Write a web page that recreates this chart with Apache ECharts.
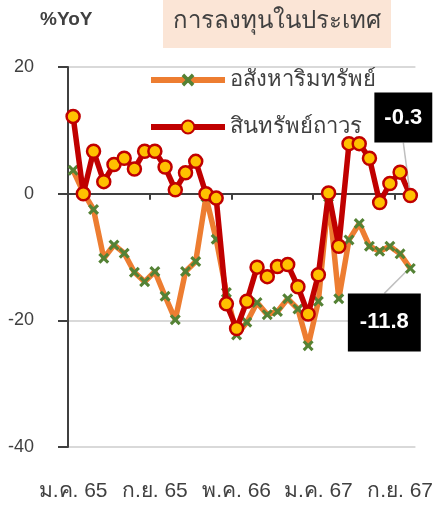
<!DOCTYPE html>
<html>
<head>
<meta charset="utf-8">
<script src="https://cdn.jsdelivr.net/npm/echarts@6/dist/echarts.min.js"></script>
<style>
  html, body { margin: 0; padding: 0; background: #fff; }
  #chart { width: 436px; height: 505px; }
</style>
</head>
<body>
<div id="chart"></div>
<script>
// monthly categories, ม.ค. 65 - ต.ค. 67
const months = [
  'ม.ค. 65', 'ก.พ. 65', 'มี.ค. 65', 'เม.ย. 65', 'พ.ค. 65', 'มิ.ย. 65', 'ก.ค. 65', 'ส.ค. 65', 'ก.ย. 65', 'ต.ค. 65', 'พ.ย. 65', 'ธ.ค. 65',
  'ม.ค. 66', 'ก.พ. 66', 'มี.ค. 66', 'เม.ย. 66', 'พ.ค. 66', 'มิ.ย. 66', 'ก.ค. 66', 'ส.ค. 66', 'ก.ย. 66', 'ต.ค. 66', 'พ.ย. 66', 'ธ.ค. 66',
  'ม.ค. 67', 'ก.พ. 67', 'มี.ค. 67', 'เม.ย. 67', 'พ.ค. 67', 'มิ.ย. 67', 'ก.ค. 67', 'ส.ค. 67', 'ก.ย. 67', 'ต.ค. 67'
]

// %YoY
const realEstate = [
  3.7, 0.2, -2.5, -10.2, -8.1, -9.4, -12.4, -13.9, -12.3, -16.2, -19.9, -12.3,
  -10.7, -0.5, -7.2, -15.6, -22.3, -20.3, -17.2, -19.1, -18.6, -16.6, -18.2, -24.0,
  -17.0, -0.5, -16.6, -7.3, -4.7, -8.3, -9.1, -8.3, -9.5, -11.8
]
const fixedAssets = [
  12.2, 0.0, 6.7, 1.9, 4.6, 5.6, 3.9, 6.7, 6.7, 4.2, 0.6, 3.3,
  5.1, 0.0, -0.7, -17.4, -21.3, -17.0, -11.6, -13.1, -11.5, -11.2, -14.7, -19.0,
  -12.8, 0.1, -8.3, 7.9, 7.9, 5.6, -1.4, 1.6, 3.4, -0.3
]

const seriesNames = ['อสังหาริมทรัพย์', 'สินทรัพย์ถาวร']
const yTicks = { min: -40, max: 20, interval: 20 }

const FONT = "'Liberation Sans', 'Noto Sans', sans-serif"
const TEXT = '#404040'

// only the latest value gets a label
const withLastLabel = (arr) => arr.map((v, i) =>
  i === arr.length - 1 ? { value: v, label: { show: true } } : v)

const xMark = 'path://M2,0 L5,3 L8,0 L10,2 L7,5 L10,8 L8,10 L5,7 L2,10 L0,8 L3,5 L0,2 Z'

const boxLabel = {
  show: false,
  position: 'inside',
  color: '#fff',
  backgroundColor: '#000',
  fontFamily: FONT,
  fontWeight: 'bold',
  fontSize: 22
}

const chart = echarts.init(document.getElementById('chart'))

chart.setOption({
  animation: false,
  textStyle: { fontFamily: FONT },
  graphic: [
    {
      type: 'text',
      left: 40,
      top: 10,
      style: { text: '%YoY', fill: TEXT, font: "bold 19px " + FONT }
    },
    {
      type: 'group',
      left: 163,
      top: 0,
      children: [
        { type: 'rect', shape: { x: 0, y: 0, width: 228, height: 48 }, style: { fill: '#fbe5d6' } },
        {
          type: 'text', x: 114, y: 21,
          style: { text: 'การลงทุนในประเทศ', fill: TEXT, font: "24px " + FONT, align: 'center', verticalAlign: 'middle' }
        }
      ]
    }
  ],
  legend: {
    orient: 'vertical',
    left: 148,
    top: 69,
    padding: 0,
    itemWidth: 74,
    itemHeight: 16,
    itemGap: 25,
    lineStyle: { width: 6 },
    textStyle: { color: TEXT, fontSize: 22, fontFamily: FONT },
    data: seriesNames
  },
  grid: { left: 68, right: 18, top: 67, bottom: 58 },
  xAxis: [
    {
      type: 'category',
      data: months,
      boundaryGap: true,
      axisLine: { onZero: true, lineStyle: { color: TEXT, width: 2 } },
      axisTick: { show: true, interval: 7, length: 6, lineStyle: { color: TEXT, width: 2 } },
      axisLabel: { show: false },
      splitLine: { show: false },
      z: 3
    },
    {
      type: 'category',
      data: months,
      position: 'bottom',
      boundaryGap: true,
      axisLine: { show: false, onZero: false },
      axisTick: { show: false },
      axisLabel: { interval: 7, color: TEXT, fontSize: 21, margin: 34, fontFamily: FONT },
      splitLine: { show: false }
    }
  ],
  yAxis: {
    type: 'value',
    min: yTicks.min,
    max: yTicks.max,
    interval: yTicks.interval,
    axisLine: { show: true, lineStyle: { color: TEXT, width: 2 } },
    axisTick: { show: true, length: 10, lineStyle: { color: TEXT, width: 2 } },
    axisLabel: { color: TEXT, fontSize: 18, margin: 34, fontFamily: FONT },
    splitLine: { show: true, lineStyle: { color: '#d9d9d9', width: 2 } }
  },
  series: [
    {
      name: seriesNames[0],
      type: 'line',
      data: withLastLabel(realEstate),
      showAllSymbol: true,
      symbol: xMark,
      symbolSize: 11,
      lineStyle: { color: '#ed7d31', width: 5.5 },
      itemStyle: { color: '#548235' },
      label: Object.assign({}, boxLabel, { padding: [18, 12] }),
      labelLayout: { dx: -26, dy: 54 },
      labelLine: { show: true, lineStyle: { color: '#bfbfbf', width: 1.5 } },
      z: 2
    },
    {
      name: seriesNames[1],
      type: 'line',
      data: withLastLabel(fixedAssets),
      showAllSymbol: true,
      symbol: 'circle',
      symbolSize: 13,
      lineStyle: { color: '#c00000', width: 5.5 },
      itemStyle: { color: '#ffc000', borderColor: '#c00000', borderWidth: 2.5 },
      label: Object.assign({}, boxLabel, { padding: [14, 10] }),
      labelLayout: { dx: -7, dy: -78 },
      labelLine: { show: true, lineStyle: { color: '#bfbfbf', width: 1.5 } },
      z: 4
    }
  ]
})

window.addEventListener('resize', () => chart.resize())
</script>
</body>
</html>
